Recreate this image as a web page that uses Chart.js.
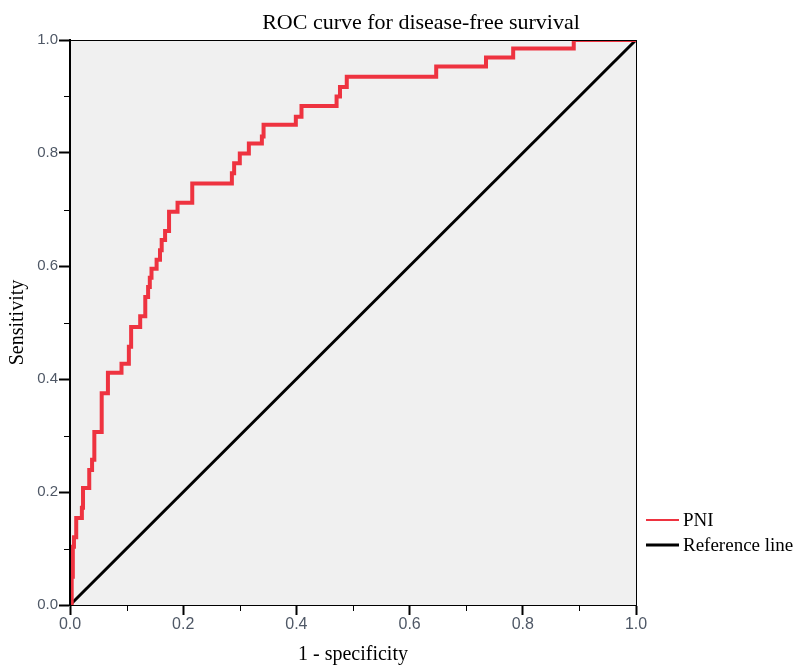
<!DOCTYPE html>
<html>
<head>
<meta charset="utf-8">
<script src="https://cdn.jsdelivr.net/npm/chart.js@4/dist/chart.umd.min.js"></script>
<style>
  html, body { margin: 0; padding: 0; background: #fff; }
  #wrap { width: 796px; height: 667px; }
</style>
</head>
<body>
<div id="wrap"><canvas id="roc"></canvas></div>
<script>
// ROC curve — corners of the step curve
const fprValues = [
  0.003, 0.003, 0.005, 0.005, 0.007, 0.007, 0.011, 0.011, 0.021, 0.021,
  0.023, 0.023, 0.034, 0.034, 0.039, 0.039, 0.043, 0.043, 0.056, 0.056,
  0.067, 0.067, 0.091, 0.091, 0.104, 0.104, 0.108, 0.108, 0.124, 0.124,
  0.133, 0.133, 0.138, 0.138, 0.141, 0.141, 0.144, 0.144, 0.153, 0.153,
  0.159, 0.159, 0.162, 0.162, 0.168, 0.168, 0.175, 0.175, 0.190, 0.190,
  0.216, 0.216, 0.286, 0.286, 0.290, 0.290, 0.300, 0.300, 0.316, 0.316,
  0.339, 0.339, 0.342, 0.342, 0.399, 0.399, 0.409, 0.409, 0.471, 0.471,
  0.477, 0.477, 0.489, 0.489, 0.647, 0.647, 0.735, 0.735, 0.783, 0.783,
  0.890, 0.890, 1.0
];
const tprValues = [
  0, 0.050, 0.050, 0.103, 0.103, 0.120, 0.120, 0.154, 0.154, 0.172,
  0.172, 0.207, 0.207, 0.239, 0.239, 0.257, 0.257, 0.306, 0.306, 0.375,
  0.375, 0.411, 0.411, 0.427, 0.427, 0.457, 0.457, 0.492, 0.492, 0.511,
  0.511, 0.545, 0.545, 0.563, 0.563, 0.579, 0.579, 0.595, 0.595, 0.611,
  0.611, 0.628, 0.628, 0.646, 0.646, 0.662, 0.662, 0.696, 0.696, 0.712,
  0.712, 0.746, 0.746, 0.764, 0.764, 0.782, 0.782, 0.799, 0.799, 0.817,
  0.817, 0.829, 0.829, 0.850, 0.850, 0.864, 0.864, 0.883, 0.883, 0.900,
  0.900, 0.917, 0.917, 0.935, 0.935, 0.953, 0.953, 0.969, 0.969, 0.985,
  0.985, 1.0, 1.0
];
const refX = [0, 1];
const refY = [0, 1];

const seriesLabels = ['PNI', 'Reference line'];
const seriesColors = ['#ee3340', '#000000'];
const titleText = 'ROC curve for disease-free survival';
const xTitle = '1 - specificity';
const yTitle = 'Sensitivity';

const SERIF = "'Liberation Serif', 'DejaVu Serif', serif";
const SANS = "'Liberation Sans', Arial, sans-serif";
const TICK_COLOR = '#4f5866';

const toPoints = (xs, ys) => xs.map((x, i) => ({ x, y: ys[i] }));
const isMajorVal = v => Math.round(v * 10) % 2 === 0;
const isMajor = c => c.tick && isMajorVal(c.tick.value);
const tickLabel = v => (isMajorVal(v) ? v.toFixed(1) : '');

// background, frame, short minor ticks, title and the legend on the right
const decor = {
  id: 'decor',
  beforeDatasetsDraw(chart) {
    const { ctx, chartArea: a } = chart;
    ctx.save();
    ctx.fillStyle = '#f0f0f0';
    ctx.fillRect(a.left, a.top, a.right - a.left, a.bottom - a.top);
    ctx.restore();
  },
  afterDraw(chart) {
    const { ctx, chartArea: a, scales } = chart;
    ctx.save();
    ctx.strokeStyle = '#000';
    ctx.lineWidth = 1;
    ctx.strokeRect(a.left + 0.5, a.top + 0.5, a.right - a.left, a.bottom - a.top);

    // minor ticks (half length)
    scales.x.ticks.forEach(t => {
      if (isMajorVal(t.value)) return;
      const px = Math.round(scales.x.getPixelForValue(t.value)) + 0.5;
      ctx.beginPath();
      ctx.moveTo(px, a.bottom);
      ctx.lineTo(px, a.bottom + 6);
      ctx.stroke();
    });
    scales.y.ticks.forEach(t => {
      if (isMajorVal(t.value)) return;
      const py = Math.round(scales.y.getPixelForValue(t.value)) + 0.5;
      ctx.beginPath();
      ctx.moveTo(a.left, py);
      ctx.lineTo(a.left - 6, py);
      ctx.stroke();
    });

    ctx.fillStyle = '#000';
    ctx.font = `22px ${SERIF}`;
    ctx.textAlign = 'center';
    ctx.textBaseline = 'alphabetic';
    ctx.fillText(titleText, 421, 29);

    ctx.font = `19px ${SERIF}`;
    ctx.textAlign = 'left';
    ctx.textBaseline = 'middle';
    const rows = [520, 545];
    seriesLabels.forEach((lbl, i) => {
      ctx.strokeStyle = seriesColors[i];
      ctx.lineWidth = i === 0 ? 2 : 3;
      ctx.beginPath();
      ctx.moveTo(646, rows[i]);
      ctx.lineTo(679, rows[i]);
      ctx.stroke();
      ctx.fillText(lbl, 683, rows[i] + 1);
    });
    ctx.restore();
  }
};

new Chart(document.getElementById('roc'), {
  type: 'scatter',
  data: {
    datasets: [
      {
        label: seriesLabels[0],
        data: toPoints(fprValues, tprValues),
        showLine: true,
        borderColor: seriesColors[0],
        borderWidth: 4,
        pointRadius: 0,
        borderJoinStyle: 'miter',
        borderCapStyle: 'square'
      },
      {
        label: seriesLabels[1],
        data: toPoints(refX, refY),
        showLine: true,
        borderColor: seriesColors[1],
        borderWidth: 3,
        pointRadius: 0
      }
    ]
  },
  options: {
    responsive: true,
    maintainAspectRatio: false,
    animation: false,
    layout: { padding: { left: 0, right: 160, top: 40, bottom: 0 } },
    plugins: {
      legend: { display: false },
      title: { display: false },
      tooltip: { enabled: false }
    },
    scales: {
      x: {
        type: 'linear',
        min: 0,
        max: 1,
        afterFit: s => { s.height = 62; },
        border: { display: true, color: '#000', width: 2 },
        grid: {
          drawOnChartArea: false,
          drawTicks: true,
          tickLength: 10,
          tickColor: c => (isMajor(c) ? '#000' : 'rgba(0,0,0,0)'),
          tickWidth: 2
        },
        ticks: {
          stepSize: 0.1,
          autoSkip: false,
          maxRotation: 0,
          padding: 0,
          color: TICK_COLOR,
          font: { family: SANS, size: 16 },
          callback: tickLabel
        },
        title: {
          display: true,
          text: xTitle,
          color: '#000',
          font: { family: SERIF, size: 20 },
          padding: { top: 0, bottom: 0 }
        }
      },
      y: {
        type: 'linear',
        min: 0,
        max: 1,
        afterFit: s => { s.width = 70; },
        border: { display: true, color: '#000', width: 2 },
        grid: {
          drawOnChartArea: false,
          drawTicks: true,
          tickLength: 11,
          tickColor: c => (isMajor(c) ? '#000' : 'rgba(0,0,0,0)'),
          tickWidth: 2
        },
        ticks: {
          stepSize: 0.1,
          autoSkip: false,
          padding: 1,
          color: TICK_COLOR,
          font: { family: SANS, size: 15 },
          callback: tickLabel
        },
        title: {
          display: true,
          text: yTitle,
          color: '#000',
          font: { family: SERIF, size: 20 },
          padding: { top: 6, bottom: 0 }
        }
      }
    }
  },
  plugins: [decor]
});
</script>
</body>
</html>
